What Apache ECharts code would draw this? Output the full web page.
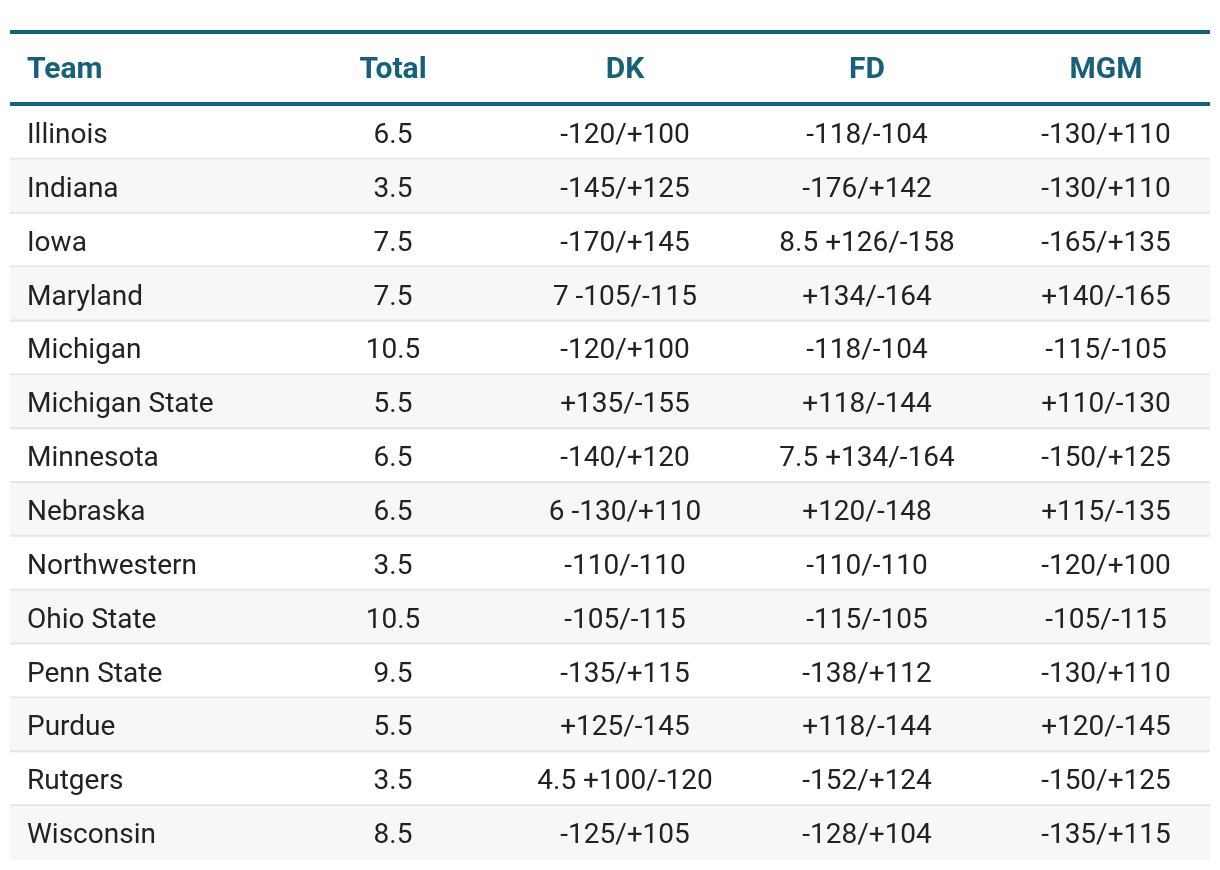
<!DOCTYPE html>
<html><head><meta charset="utf-8">
<script src="https://cdn.jsdelivr.net/npm/echarts@6/dist/echarts.min.js"></script>
<style>html,body{margin:0;padding:0;background:#fff}#c{width:1220px;height:870px}</style>
</head><body><div id="c"></div>
<script>
const headers = ['Team', 'Total', 'DK', 'FD', 'MGM'];
const teams = ['Illinois','Indiana','Iowa','Maryland','Michigan','Michigan State','Minnesota','Nebraska','Northwestern','Ohio State','Penn State','Purdue','Rutgers','Wisconsin'];
const totals = ['6.5','3.5','7.5','7.5','10.5','5.5','6.5','6.5','3.5','10.5','9.5','5.5','3.5','8.5'];
const dk = ['-120/+100','-145/+125','-170/+145','7 -105/-115','-120/+100','+135/-155','-140/+120','6 -130/+110','-110/-110','-105/-115','-135/+115','+125/-145','4.5 +100/-120','-125/+105'];
const fd = ['-118/-104','-176/+142','8.5 +126/-158','+134/-164','-118/-104','+118/-144','7.5 +134/-164','+120/-148','-110/-110','-115/-105','-138/+112','+118/-144','-152/+124','-128/+104'];
const mgm = ['-130/+110','-130/+110','-165/+135','+140/-165','-115/-105','+110/-130','-150/+125','+115/-135','-120/+100','-105/-115','-130/+110','+120/-145','-150/+125','-135/+115'];

const TEAL = '#17607a';
const TXT = '#222222';
const FONT = 'Roboto';
const colFrac = [null, 0.3192, 0.5125, 0.7142, 0.9133];

const chart = echarts.init(document.getElementById('c'), null, {renderer: 'canvas'});
chart.setOption({
  animation: false,
  backgroundColor: '#ffffff',
  grid: {left: 10, right: 10, top: 106, bottom: 10},
  xAxis: {type: 'value', min: 0, max: 1, show: false},
  yAxis: {type: 'category', data: teams, inverse: true, show: false},
  series: [{
    type: 'custom',
    clip: false,
    data: teams.map((t, i) => [0, i]),
    renderItem: function (params, api) {
      const i = api.value(1);
      const pt = api.coord([0, i]);
      const h = api.size([0, 1])[1];
      const cs = params.coordSys;
      const x0 = cs.x, w = cs.width;
      const yc = pt[1];
      const children = [];
      if (i % 2 === 1) {
        children.push({type: 'rect', shape: {x: x0, y: yc - h / 2, width: w, height: h}, style: {fill: '#f7f7f7'}});
      }
      if (i < teams.length - 1) {
        children.push({type: 'rect', shape: {x: x0, y: yc + h / 2 - 2, width: w, height: 2}, style: {fill: '#e6e6e6'}});
      }
      const vals = [teams[i], totals[i], dk[i], fd[i], mgm[i]];
      vals.forEach((v, k) => {
        children.push({type: 'text', style: {
          text: v, x: k === 0 ? x0 + 17 : x0 + w * colFrac[k], y: yc + 3,
          align: k === 0 ? 'left' : 'center', verticalAlign: 'middle',
          fontSize: 28, fontFamily: FONT, fill: TXT
        }});
      });
      if (i === 0) {
        children.push({type: 'rect', shape: {x: x0, y: cs.y - 76, width: w, height: 4}, style: {fill: TEAL}});
        children.push({type: 'rect', shape: {x: x0, y: cs.y - 4, width: w, height: 4}, style: {fill: TEAL}});
        headers.forEach((hd, k) => {
          children.push({type: 'text', style: {
            text: hd, x: k === 0 ? x0 + 17 : x0 + w * colFrac[k], y: cs.y - 36,
            align: k === 0 ? 'left' : 'center', verticalAlign: 'middle',
            fontSize: 30, fontWeight: 'bold', fontFamily: FONT, fill: TEAL
          }});
        });
      }
      return {type: 'group', children: children};
    }
  }]
});
</script>
</body></html>
